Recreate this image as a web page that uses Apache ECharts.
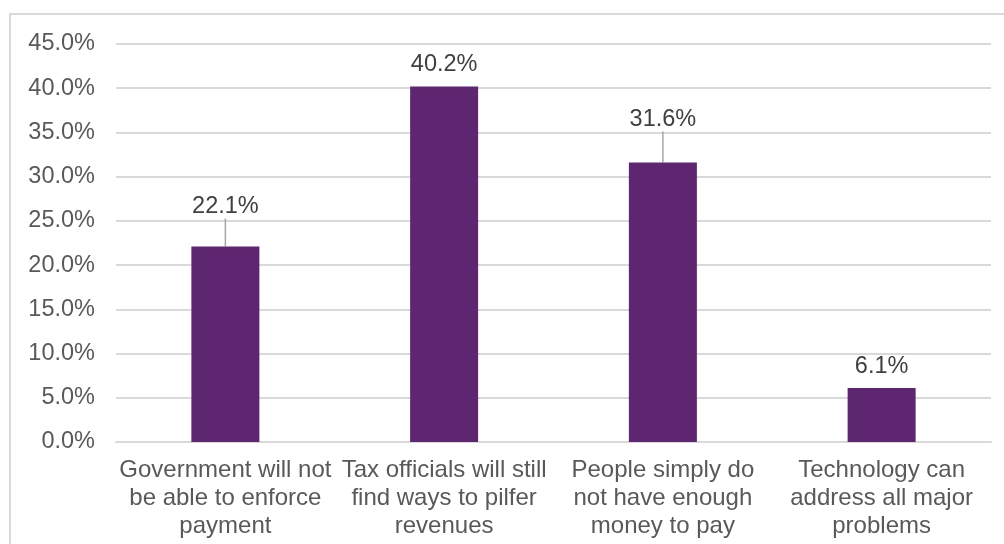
<!DOCTYPE html>
<html>
<head>
<meta charset="utf-8">
<script src="https://cdn.jsdelivr.net/npm/echarts@6/dist/echarts.min.js"></script>
<style>html,body{margin:0;padding:0;background:#fff;}#c{width:1004px;height:544px;}</style>
</head>
<body>
<div id="c"></div>
<script>
const categories = [
  "Government will not\nbe able to enforce\npayment",
  "Tax officials will still\nfind ways to pilfer\nrevenues",
  "People simply do\nnot have enough\nmoney to pay",
  "Technology can\naddress all major\nproblems"
];
const values = [22.1, 40.2, 31.6, 6.1];
const labelShift = [-18, 0, -21, 0];

const FONT = '"Liberation Sans", Arial, sans-serif';
const chart = echarts.init(document.getElementById('c'), null, {renderer: 'canvas'});
chart.setOption({
  animation: false,
  backgroundColor: '#fff',
  textStyle: {fontFamily: FONT},
  graphic: [{
    type: 'rect', silent: true, z: -1,
    shape: {x: 10, y: 14, width: 1100, height: 600},
    style: {fill: 'none', stroke: '#d9d9d9', lineWidth: 2}
  }],
  grid: {left: 116, right: 13, top: 44, bottom: 102, containLabel: false},
  xAxis: {
    type: 'category', data: categories,
    axisTick: {show: false},
    axisLine: {lineStyle: {color: '#d9d9d9', width: 2}},
    axisLabel: {color: '#595959', fontSize: 24, lineHeight: 28, margin: 14, interval: 0, fontFamily: FONT}
  },
  yAxis: {
    type: 'value', min: 0, max: 45, interval: 5,
    axisLine: {show: false}, axisTick: {show: false},
    splitLine: {lineStyle: {color: '#d9d9d9', width: 2}},
    axisLabel: {color: '#595959', fontSize: 23.5, margin: 21,
      formatter: v => v.toFixed(1) + '%', fontFamily: FONT}
  },
  series: [{
    type: 'bar', barWidth: 68,
    data: values.map((v, i) => ({value: v, labelLine: {show: labelShift[i] !== 0}})),
    itemStyle: {color: '#5E2670'},
    label: {show: true, position: 'top', distance: 10, color: '#404040', fontSize: 23.5,
      formatter: p => p.value.toFixed(1) + '%', fontFamily: FONT},
    labelLayout: p => ({dy: labelShift[p.dataIndex]}),
    labelLine: {show: true, lineStyle: {color: '#a6a6a6', width: 1.5}}
  }]
});
</script>
</body>
</html>
